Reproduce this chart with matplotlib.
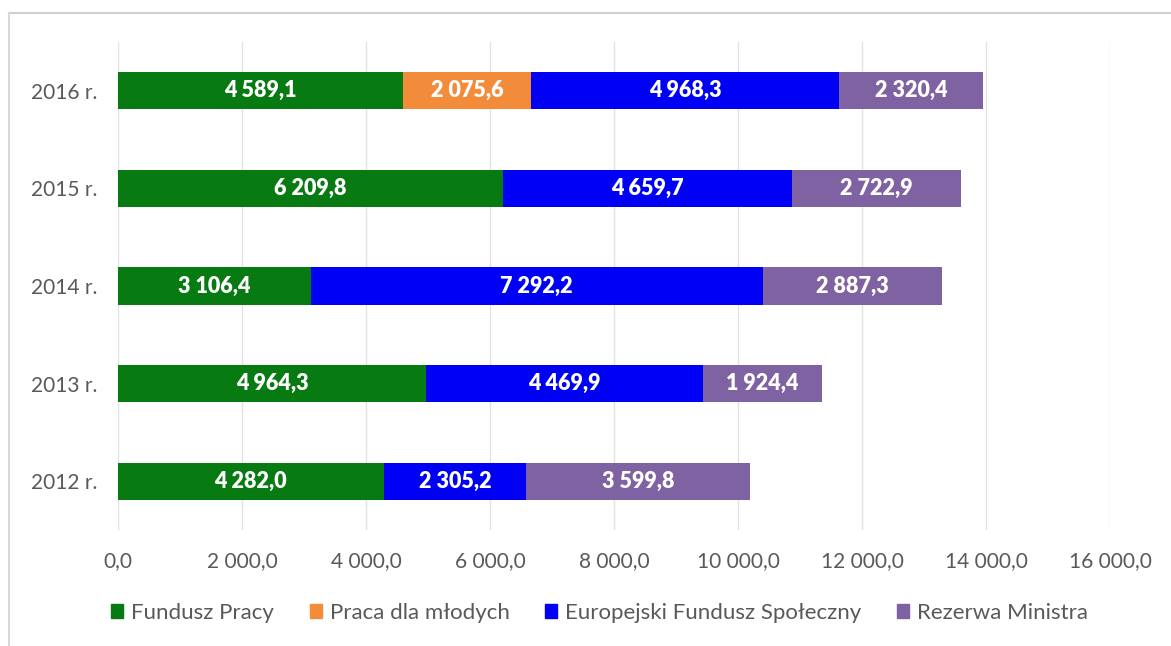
import matplotlib
matplotlib.use("Agg")
import matplotlib.pyplot as plt
from matplotlib.lines import Line2D
import numpy as np

years = ["2012 r.", "2013 r.", "2014 r.", "2015 r.", "2016 r."]
fundusz_pracy = [4282.0, 4964.3, 3106.4, 6209.8, 4589.1]
praca_mlodych = [0.0, 0.0, 0.0, 0.0, 2075.6]
efs = [2305.2, 4469.9, 7292.2, 4659.7, 4968.3]
rezerwa = [3599.8, 1924.4, 2887.3, 2722.9, 2320.4]
series_names = ["Fundusz Pracy", "Praca dla młodych", "Europejski Fundusz Społeczny", "Rezerwa Ministra"]
colors = ["#087a12", "#f28c3a", "#0000f5", "#7f62a1"]
xticks = [0, 2000, 4000, 6000, 8000, 10000, 12000, 14000, 16000]

plt.rcParams['font.family'] = ['Lato', 'DejaVu Sans']

def fmt(v):
    s = f"{v:,.1f}"
    return s.replace(",", " ").replace(".", ",")

fig = plt.figure(figsize=(11.71, 6.46), dpi=100)
ax = fig.add_axes([0.1008, 0.1796, 0.8472, 0.7554])

y = np.arange(len(years))
left = np.zeros(len(years))
data = [fundusz_pracy, praca_mlodych, efs, rezerwa]
for vals, name, c in zip(data, series_names, colors):
    vals = np.array(vals)
    ax.barh(y, vals, left=left, height=0.38, color=c, label=name, zorder=3)
    for yi, (l, v) in enumerate(zip(left, vals)):
        if v > 0:
            ax.text(l + v / 2, yi, fmt(v), ha="center", va="center", color="white",
                    fontsize=15.5, fontweight="heavy", zorder=4)
    left = left + vals

ax.set_xlim(0, 16000)
ax.set_ylim(-0.5, 4.5)
ax.set_xticks(xticks)
ax.set_xticklabels([fmt(v) for v in xticks])
ax.set_yticks(y)
ax.set_yticklabels(years)
ax.tick_params(axis="both", length=0, colors="#595959")
ax.tick_params(axis="x", pad=15.5, labelsize=15)
ax.tick_params(axis="y", pad=15, labelsize=15)
ax.grid(axis="x", color="#e3e3e3", linewidth=1, zorder=0)
for s in ax.spines.values():
    s.set_visible(False)

handles = [plt.Rectangle((0, 0), 1, 1, color=c) for c in colors]
fig.legend(handles, series_names, loc="center", bbox_to_anchor=(0.512, 0.051),
           ncol=4, frameon=False, fontsize=16, labelcolor="#595959",
           handlelength=0.55, handleheight=0.55, handletextpad=0.35, columnspacing=1.6)

fig.add_artist(Line2D([9/1171, 1.0], [1 - 13/646, 1 - 13/646], color="#d0d0d0", linewidth=1.5))
fig.add_artist(Line2D([9/1171, 9/1171], [1 - 13/646, 0.0], color="#d9d9d9", linewidth=1.5))

fig.savefig("out.png", dpi=100, facecolor="white")
